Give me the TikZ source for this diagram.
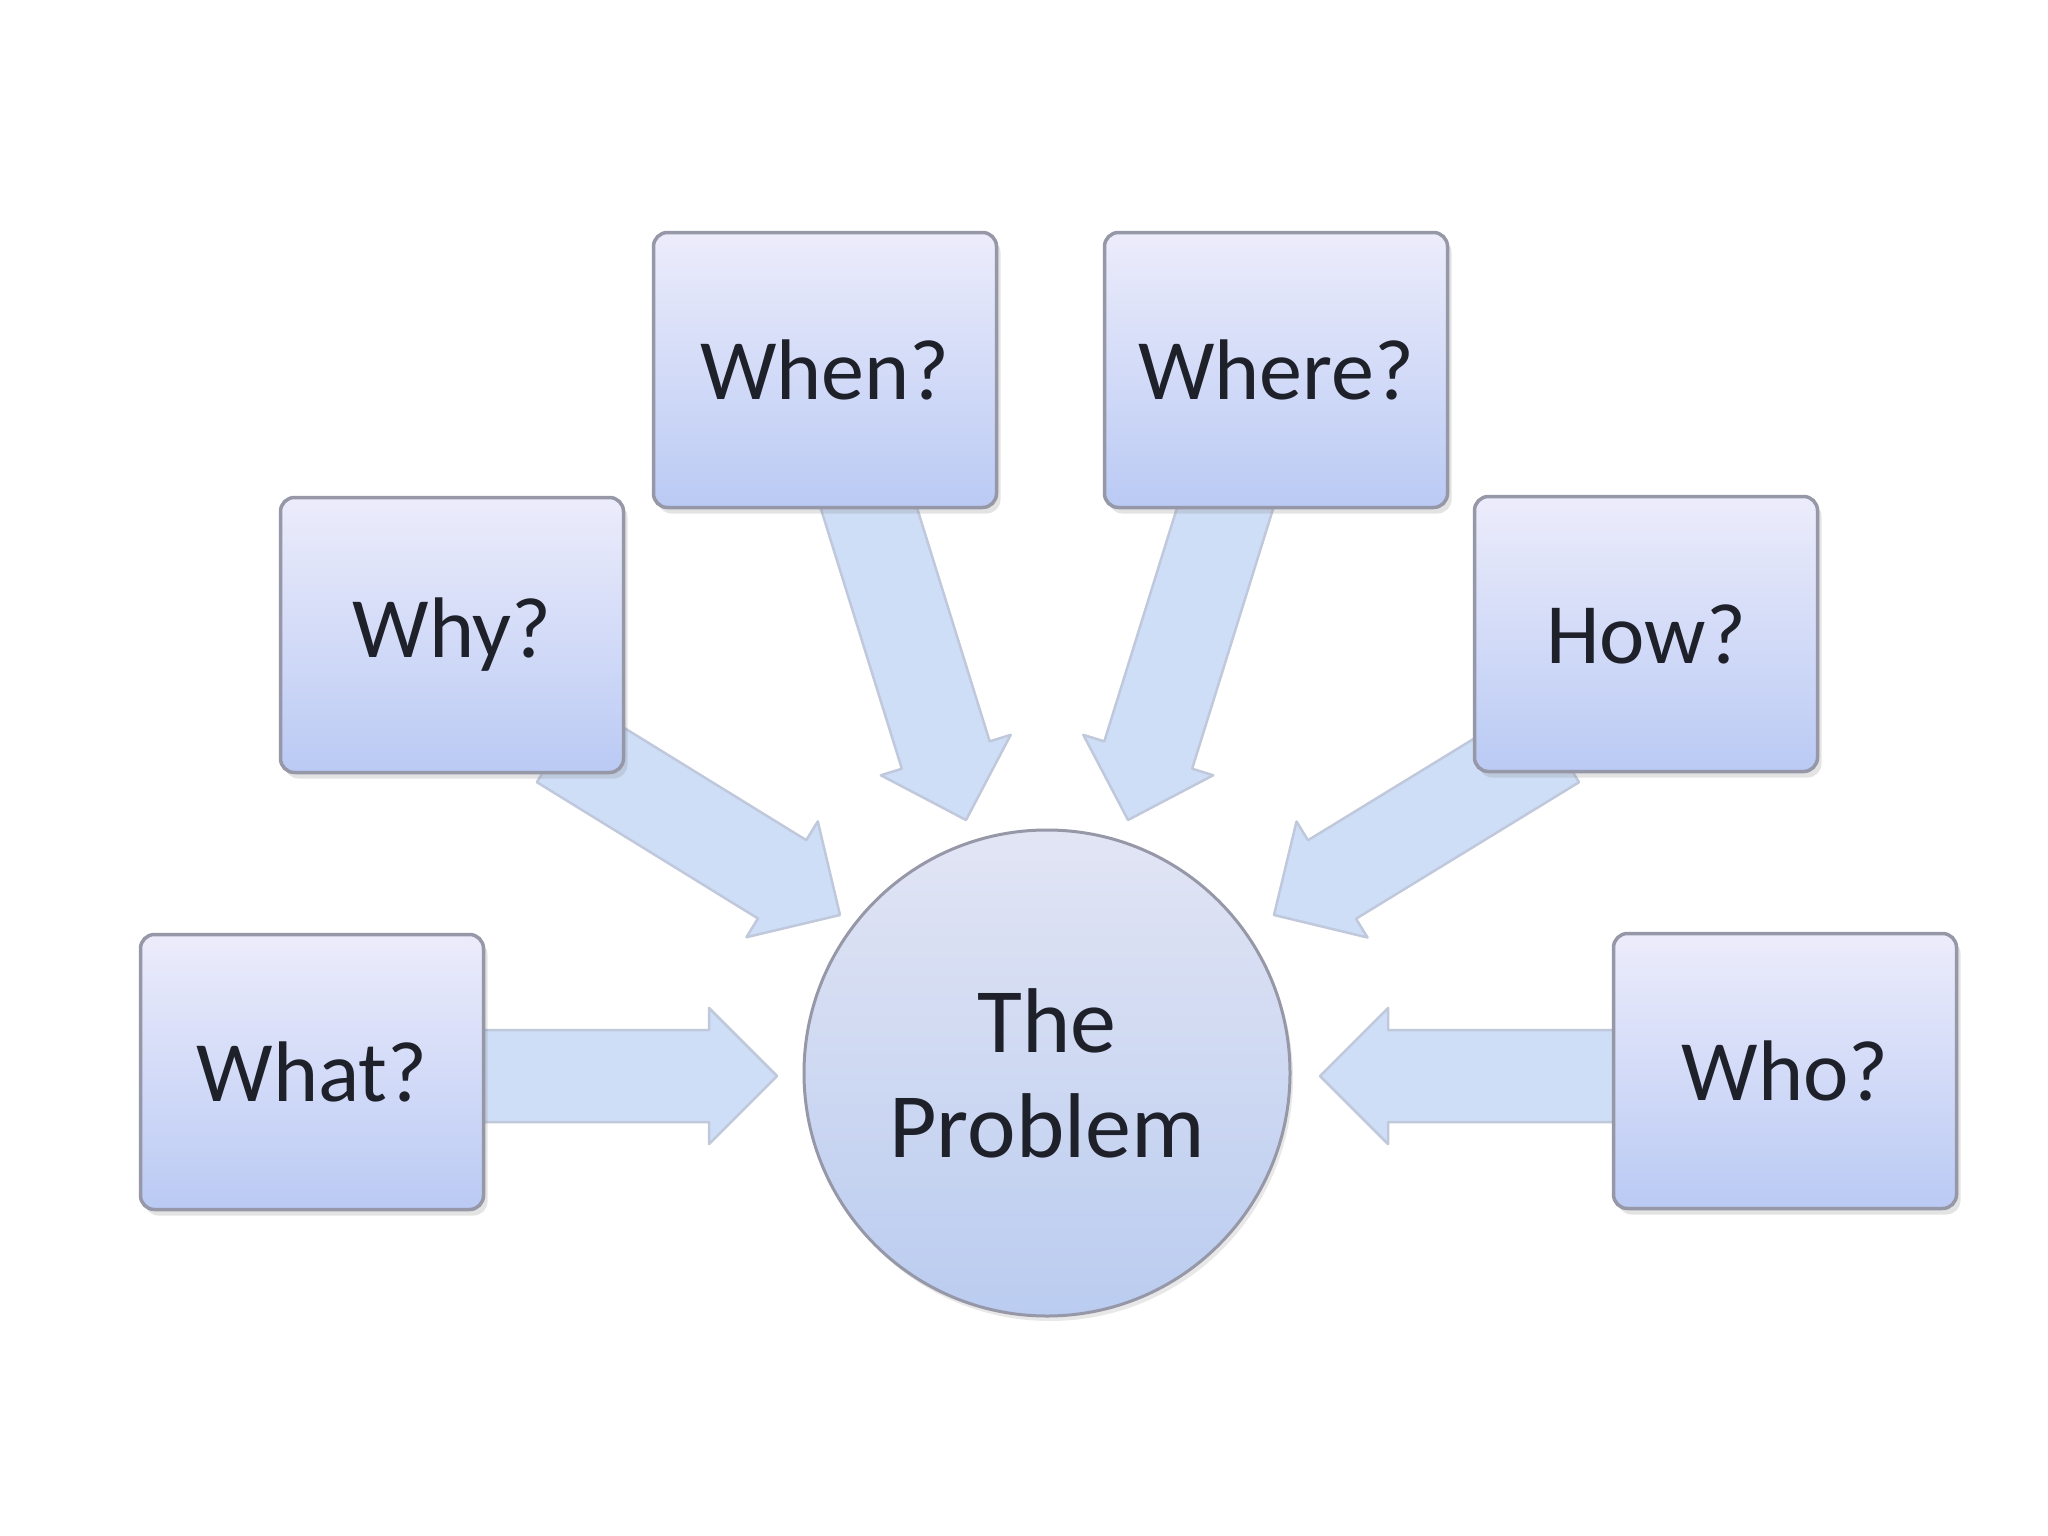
\documentclass[tikz,border=0pt]{standalone}
\usepackage{fontspec}
\setmainfont{Carlito}
\usetikzlibrary{calc,shadows}
\pgfdeclarelayer{bg}
\pgfsetlayers{bg,main}
\definecolor{boxtop}{RGB}{236,236,251}
\definecolor{boxbot}{RGB}{186,202,244}
\definecolor{edgegray}{RGB}{150,152,168}
\definecolor{arrfill}{RGB}{207,222,247}
\definecolor{arredge}{RGB}{192,200,220}
\definecolor{txt}{RGB}{30,32,42}
\definecolor{circtop}{RGB}{226,229,244}
\definecolor{circbot}{RGB}{186,204,240}
\newcommand\qarrow[2]{%
  \path let \p1=(#1), \p2=(#2) in \pgfextra{%
    \pgfmathparse{atan2(\y2-\y1,\x2-\x1)}\xdef\qang{\pgfmathresult}%
    \pgfmathparse{veclen(\x2-\x1,\y2-\y1)}\xdef\qlen{\pgfmathresult}};
  \begin{scope}[shift={(#1)},rotate=\qang]
    \draw[blockarrow] (0,-46) -- (\qlen-68,-46) -- (\qlen-68,-68) -- (\qlen,0)
      -- (\qlen-68,68) -- (\qlen-68,46) -- (0,46) -- cycle;
  \end{scope}}
\tikzset{
  qbox/.style={rectangle, rounded corners=14pt, draw=edgegray, line width=3.5pt,
    top color=boxtop, bottom color=boxbot, minimum width=343pt, minimum height=275pt,
    inner sep=0pt, text=txt, font=\fontsize{86}{100}\selectfont,
    drop shadow={opacity=0.22, shadow xshift=4pt, shadow yshift=-6pt}},
  qcirc/.style={circle, draw=edgegray, line width=3pt, top color=circtop,
    bottom color=circbot, minimum size=486pt, inner sep=0pt, align=center,
    text=txt, font=\fontsize{92}{105}\selectfont,
    drop shadow={opacity=0.18, shadow xshift=3pt, shadow yshift=-5pt}},
  blockarrow/.style={fill=arrfill, draw=arredge, line width=2.5pt, line join=round}
}
\begin{document}
\begin{tikzpicture}[x=1pt,y=-1pt]
\useasboundingbox (0,0) rectangle (2048,1536);
\begin{pgfonlayer}{bg}
  \fill[white] (0,0) rectangle (2048,1536);
\end{pgfonlayer}
% boxes
\node[qbox] (what)  at (312,1072) {What?};
\node[qbox] (who)   at (1785,1071) {Who?};
\node[qbox] (why)   at (452,635) {Why?};
\node[qbox] (how)   at (1646,634) {How?};
\node[qbox] (when)  at (825,370) {When?};
\node[qbox] (where) at (1276,370) {Where?};
\node[qcirc] (prob) at (1047,1073) {The\\Problem};
% arrow ends
\coordinate (whatT)  at (470,1076);  \coordinate (whatH)  at (777,1076);
\coordinate (whoT)   at (1625,1076); \coordinate (whoH)   at (1320,1076);
\coordinate (whyT)   at (561,743);   \coordinate (whyH)   at (840,915);
\coordinate (howT)   at (1555,743);  \coordinate (howH)   at (1274,915);
\coordinate (whenT)  at (862,486);   \coordinate (whenH)  at (966,820);
\coordinate (whereT) at (1232,486);  \coordinate (whereH) at (1128,820);
\begin{pgfonlayer}{bg}
  \qarrow{whatT}{whatH}
  \qarrow{whoT}{whoH}
  \qarrow{whyT}{whyH}
  \qarrow{howT}{howH}
  \qarrow{whenT}{whenH}
  \qarrow{whereT}{whereH}
\end{pgfonlayer}
\end{tikzpicture}
\end{document}
